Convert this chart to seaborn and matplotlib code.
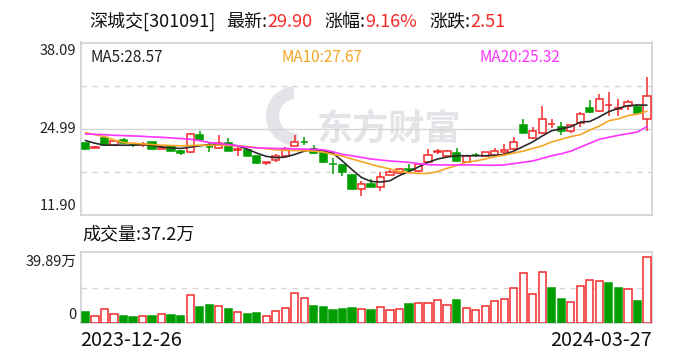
import matplotlib
matplotlib.use("Agg")
import numpy as np
import pandas as pd
import seaborn as sns
from matplotlib import pyplot as plt
from matplotlib.patches import Wedge
from matplotlib.transforms import IdentityTransform

# daily candles, 2023-12-26 .. 2024-03-27
opens = [22.8, 22.1, 23.64, 22.5, 23.3, 22.6, 22.6, 22.98, 21.9, 22.4,
         21.6, 21.39, 23.98, 22.25, 22.0, 22.9, 21.7, 21.8, 20.8, 19.75,
         20.3, 20.8, 22.4, 23.05, 21.9, 21.3, 19.65, 19.5, 18.0, 15.9,
         16.6, 16.2, 18.0, 18.3, 18.9, 18.6, 19.9, 21.5, 20.9, 21.3,
         20.0, 21.0, 20.9, 21.03, 21.48, 21.88, 25.49, 23.64, 24.28, 25.75,
         25.29, 24.63, 25.89, 28.19, 27.69, 28.55, 28.0, 28.49, 28.29, 26.49]
highs = [22.9, 22.35, 23.8, 23.2, 23.55, 22.9, 23.0, 23.0, 22.6, 22.5,
         21.7, 24.3, 24.6, 23.0, 24.1, 23.6, 22.4, 21.9, 20.85, 20.0,
         21.1, 22.2, 24.1, 23.8, 22.5, 21.5, 20.6, 19.6, 18.1, 17.1,
         17.3, 18.4, 18.7, 19.0, 19.6, 19.8, 21.9, 21.9, 21.7, 22.0,
         21.0, 21.3, 21.5, 22.14, 22.63, 23.68, 26.54, 25.29, 28.38, 26.49,
         26.09, 25.6, 27.54, 29.39, 30.29, 30.55, 29.5, 29.39, 28.79, 32.87]
lows = [21.75, 22.0, 22.5, 22.45, 22.7, 22.3, 22.3, 21.75, 21.85, 21.55,
        21.0, 21.35, 23.2, 21.4, 21.95, 21.55, 20.9, 20.8, 19.6, 19.55,
        19.9, 20.5, 22.35, 22.5, 21.2, 19.8, 18.1, 17.8, 15.7, 14.78,
        16.1, 15.6, 17.9, 18.1, 18.3, 18.5, 19.8, 21.1, 20.8, 20.0,
        19.9, 20.7, 20.8, 20.9, 20.88, 21.8, 24.3, 23.5, 24.2, 25.14,
        24.03, 24.4, 25.23, 27.39, 27.6, 26.9, 26.9, 27.78, 27.39, 24.63]
closes = [21.9, 22.2, 22.59, 23.1, 22.9, 22.5, 22.7, 21.88, 22.3, 21.6,
          21.3, 24.13, 23.23, 22.2, 22.9, 21.6, 21.9, 20.9, 19.8, 19.9,
          20.8, 21.9, 23.0, 22.95, 21.3, 19.9, 19.6, 18.5, 15.9, 16.63,
          16.2, 17.6, 18.4, 18.85, 18.8, 19.7, 21.0, 21.6, 21.6, 20.1,
          20.8, 20.95, 21.4, 21.69, 21.73, 23.04, 24.39, 24.58, 26.49, 25.79,
          24.69, 25.49, 27.29, 27.59, 29.49, 28.6, 28.1, 29.04, 27.39, 29.90]

ma5 = [23.2, 22.8, 22.5, 22.5, 22.5, 22.5, 22.6, 22.5, 22.2, 22.1,
       22.0, 22.2, 22.4, 22.6, 22.7, 22.6, 22.4, 21.9, 21.3, 20.8,
       20.6, 20.7, 21.1, 21.6, 21.9, 21.6, 21.3, 20.1, 18.8, 17.6,
       17.0, 16.9, 17.1, 17.9, 18.5, 19.2, 19.9, 20.4, 20.7, 20.9,
       20.9, 20.9, 20.9, 20.95, 21.1, 21.6, 22.3, 23.0, 23.9, 24.7,
       25.0, 25.3, 26.0, 26.1, 26.8, 27.6, 28.1, 28.5, 28.6, 28.57]
ma10 = [24.4, 24.1, 23.8, 23.3, 22.9, 22.8, 22.7, 22.6, 22.5, 22.45,
        22.4, 22.45, 22.5, 22.5, 22.5, 22.45, 22.4, 22.3, 22.1, 21.95,
        21.8, 21.7, 21.7, 21.65, 21.6, 21.45, 21.1, 20.85, 20.4, 20.0,
        19.6, 19.2, 18.9, 18.5, 18.3, 18.2, 18.2, 18.5, 19.0, 19.4,
        19.9, 20.1, 20.4, 20.75, 21.0, 21.3, 21.6, 22.0, 22.4, 23.0,
        23.4, 23.8, 24.1, 24.8, 25.4, 26.2, 26.5, 27.0, 27.2, 27.67]
ma20 = [24.2, 24.15, 24.1, 24.0, 23.95, 23.9, 23.85, 23.75, 23.7, 23.6,
        23.5, 23.4, 23.2, 22.9, 22.75, 22.6, 22.4, 22.2, 22.1, 22.05,
        22.0, 22.0, 21.95, 21.9, 21.85, 21.8, 21.5, 21.1, 20.9, 20.65,
        20.4, 20.25, 20.1, 20.0, 19.9, 19.7, 19.55, 19.5, 19.5, 19.5,
        19.5, 19.5, 19.45, 19.45, 19.5, 19.7, 19.9, 20.1, 20.5, 20.9,
        21.2, 21.6, 22.2, 22.8, 23.4, 23.7, 24.0, 24.25, 24.5, 25.32]

# volume in 万 shares; 1 = red (up on previous close), 0 = green
volume = [6.3, 3.9, 7.8, 5.0, 4.1, 3.5, 3.9, 4.1, 5.0, 4.6,
          4.1, 15.6, 9.1, 10.2, 9.5, 8.0, 6.1, 5.2, 5.7, 3.9,
          6.8, 8.3, 16.7, 13.9, 9.6, 9.1, 7.4, 8.0, 8.5, 7.8,
          7.4, 8.9, 7.4, 7.8, 10.8, 11.3, 11.3, 12.8, 10.0, 13.0,
          8.3, 7.2, 9.5, 12.4, 13.4, 19.5, 27.9, 16.2, 28.4, 19.7,
          13.4, 11.7, 20.6, 23.9, 23.4, 22.5, 19.7, 18.9, 12.4, 37.2]
vol_up = [0, 1, 1, 1, 0, 0, 1, 0, 1, 0,
          0, 1, 0, 0, 1, 0, 1, 0, 0, 1,
          1, 1, 1, 1, 0, 0, 0, 0, 0, 1,
          0, 1, 1, 1, 0, 1, 1, 1, 1, 0,
          1, 1, 1, 1, 1, 1, 1, 1, 1, 0,
          0, 1, 1, 1, 1, 0, 0, 1, 0, 1]

date_labels = ["2023-12-26", "2024-03-27"]
price_ticks = [11.90, 24.99, 38.09]
vol_top = 39.89

RED = "#f42a2a"
GREEN = "#009e00"
FRAME = "#cfcfd6"
WATER = "#e4e4e8"

df = pd.DataFrame({"open": opens, "high": highs, "low": lows, "close": closes,
                   "ma5": ma5, "ma10": ma10, "ma20": ma20,
                   "vol": volume, "vol_up": vol_up})
df["i"] = np.arange(len(df))
df["up"] = df["close"] >= df["open"]

sns.set_theme(style="white")
plt.rcParams["font.family"] = ["Noto Sans CJK SC", "DejaVu Sans"]

W, H = 688, 360
fig = plt.figure(figsize=(W / 100, H / 100), dpi=100)
ax = fig.add_axes([80.7 / W, 1 - 215 / H, 571 / W, 172.5 / H])
axv = fig.add_axes([80.7 / W, 1 - 323.3 / H, 571 / W, 71.6 / H])

# candles
cols = np.where(df["up"], RED, GREEN)
ax.vlines(df["i"], df["low"], df["high"], colors=cols, lw=1.1, zorder=3)
body = (df["close"] - df["open"]).abs().clip(lower=0.03)
ax.bar(df["i"], body, bottom=df[["open", "close"]].min(axis=1), width=0.76,
       color=np.where(df["up"], "white", GREEN), edgecolor=cols, linewidth=1.1, zorder=4)

sns.lineplot(data=df, x="i", y="ma5", color="#2b2b2b", lw=1.2, ax=ax, zorder=5)
sns.lineplot(data=df, x="i", y="ma10", color="#f5a623", lw=1.2, ax=ax, zorder=5)
sns.lineplot(data=df, x="i", y="ma20", color="#ff33ff", lw=1.2, ax=ax, zorder=5)

lo, hi = price_ticks[0], price_ticks[-1]
ax.set_xlim(-0.5, len(df) - 0.5)
ax.set_ylim(lo, hi)
for k, ls in [(0.25, (0, (4, 4))), (0.5, "-"), (0.75, (0, (4, 4)))]:
    ax.axhline(lo + k * (hi - lo), color="#d6d6d6", lw=1, ls=ls, zorder=1)

# watermark: logo swirl + name
logo = Wedge((296, H - 116), 30, 95, 275, width=13, transform=IdentityTransform(),
             facecolor=WATER, edgecolor="none", zorder=0.5)
ax.add_patch(logo)
ax.text(0.414, 0.50, "东方财富", transform=ax.transAxes, fontsize=26, fontweight="bold",
        color=WATER, ha="left", va="center", zorder=0.5)

# volume
vcol = np.where(np.array(vol_up) == 1, RED, GREEN)
axv.bar(df["i"], df["vol"], width=0.76, color=np.where(np.array(vol_up) == 1, "white", GREEN),
        edgecolor=vcol, linewidth=1.1, zorder=3)
axv.set_xlim(-0.5, len(df) - 0.5)
axv.set_ylim(0, vol_top)
axv.axhline(vol_top / 2, color="#d6d6d6", lw=1, ls=(0, (4, 4)), zorder=1)

for a in (ax, axv):
    a.set_xlabel("")
    a.set_ylabel("")
    a.set_xticks([])
    a.set_yticks([])
    for s in a.spines.values():
        s.set_color(FRAME)
        s.set_linewidth(1.2)

fs = 10.5
ax.text(-0.008, 0.95, f"{price_ticks[2]:.2f}", transform=ax.transAxes, ha="right", va="center", fontsize=fs, color="#222222")
ax.text(-0.008, 0.5, f"{price_ticks[1]:.2f}", transform=ax.transAxes, ha="right", va="center", fontsize=fs, color="#222222")
ax.text(-0.008, 0.05, f"{price_ticks[0]:.2f}", transform=ax.transAxes, ha="right", va="center", fontsize=fs, color="#222222")
axv.text(-0.008, 0.86, f"{vol_top:.2f}万", transform=axv.transAxes, ha="right", va="center", fontsize=fs, color="#222222")
axv.text(-0.008, 0.11, "0", transform=axv.transAxes, ha="right", va="center", fontsize=fs, color="#222222")

axv.text(0.0, -0.245, date_labels[0], transform=axv.transAxes, ha="left", va="center", fontsize=14.3, color="#111111")
axv.text(1.0, -0.245, date_labels[1], transform=axv.transAxes, ha="right", va="center", fontsize=14.3, color="#111111")

ax.text(0.018, 0.915, f"MA5:{ma5[-1]:.2f}", transform=ax.transAxes, fontsize=11, color="#222222", va="center")
ax.text(0.352, 0.915, f"MA10:{ma10[-1]:.2f}", transform=ax.transAxes, fontsize=11, color="#f5a623", va="center")
ax.text(0.698, 0.915, f"MA20:{ma20[-1]:.2f}", transform=ax.transAxes, fontsize=11, color="#ff33ff", va="center")

fig.text(82.7 / W, 1 - 234 / H, f"成交量:{volume[-1]:.1f}万", fontsize=13, color="#111111", va="center")

# header line, pieces chained left to right
renderer = fig.canvas.get_renderer()
x = 89 / W
parts = [("深城交[301091]", "#111111", 11), ("最新:", "#111111", 0), (f"{closes[-1]:.2f}", RED, 12),
         ("涨幅:", "#111111", 0), ("9.16%", RED, 12), ("涨跌:", "#111111", 0), ("2.51", RED, 0)]
for s, c, gap in parts:
    t = fig.text(x, 1 - 22 / H, s, color=c, fontsize=13, va="center", ha="left")
    bb = t.get_window_extent(renderer=renderer)
    x = (bb.x1 + gap) / W

fig.savefig("out.png", dpi=100)
